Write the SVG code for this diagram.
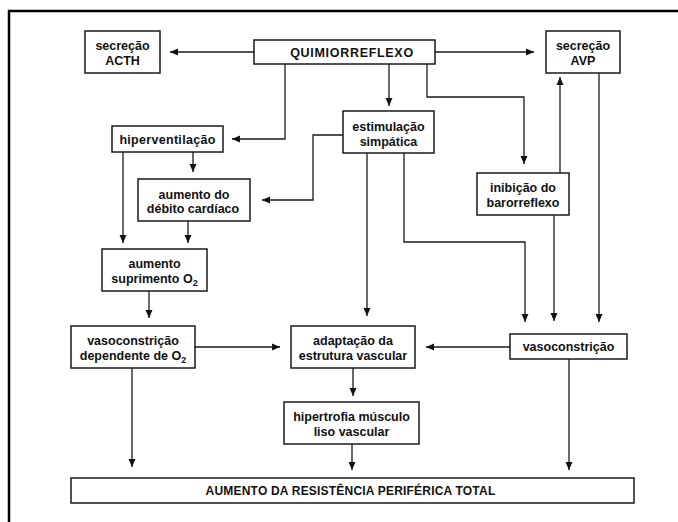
<svg xmlns="http://www.w3.org/2000/svg" width="678" height="522" viewBox="0 0 678 522">
<defs>
<marker id="ah" markerUnits="userSpaceOnUse" markerWidth="8" markerHeight="8" refX="8" refY="4" orient="auto">
<path d="M0,0.5 L8,4 L0,7.5 z" fill="#111"/>
</marker>
<style>
.box{fill:#fff;stroke:#1a1a1a;stroke-width:1.5}
.t{font-family:"Liberation Sans",Arial,sans-serif;font-weight:bold;font-size:12.5px;fill:#111;text-anchor:middle}
.sub{font-size:9px}
.c{fill:none;stroke:#1a1a1a;stroke-width:1.3;marker-end:url(#ah)}
.frame{fill:none;stroke:#000;stroke-width:2.5}
</style>
</defs>
<rect width="678" height="522" fill="#fff"/>
<path class="frame" d="M9,522 V11 H678"/>

<g id="connectors">
<path class="c" d="M254,52 H170"/>
<path class="c" d="M435,52 H534"/>
<path class="c" d="M285,64 V139 H232"/>
<path class="c" d="M389,64 V106"/>
<path class="c" d="M427,64 V97 H524 V164"/>
<path class="c" d="M560,173 V77"/>
<path class="c" d="M599,73 V322"/>
<path class="c" d="M554,215 V321"/>
<path class="c" d="M343,135 H313 V200 H262"/>
<path class="c" d="M367,153 V316"/>
<path class="c" d="M404,153 V242 H525 V322"/>
<path class="c" d="M123,152 V243"/>
<path class="c" d="M193,152 V172"/>
<path class="c" d="M188,221 V243"/>
<path class="c" d="M149,291 V318"/>
<path class="c" d="M195,347 H280"/>
<path class="c" d="M510,347 H426"/>
<path class="c" d="M132,368 V467"/>
<path class="c" d="M353,368 V396"/>
<path class="c" d="M352,444 V470"/>
<path class="c" d="M569,359 V470"/>
</g>

<g id="acth">
<rect class="box" x="85" y="31" width="75" height="42"/>
<text class="t" x="122.5" y="50">secreção</text>
<text class="t" x="122.5" y="65">ACTH</text>
</g>
<g id="quimio">
<rect class="box" x="254" y="40" width="181" height="24"/>
<text class="t" x="352" y="57" style="letter-spacing:0.7px">QUIMIORREFLEXO</text>
</g>
<g id="avp">
<rect class="box" x="546" y="31" width="74" height="42"/>
<text class="t" x="583" y="50">secreção</text>
<text class="t" x="583" y="65">AVP</text>
</g>
<g id="hiperventilacao">
<rect class="box" x="112" y="126" width="111" height="26"/>
<text class="t" x="167.5" y="143.5" style="letter-spacing:0.3px">hiperventilação</text>
</g>
<g id="estimulacao">
<rect class="box" x="343" y="111" width="91" height="42"/>
<text class="t" x="388.5" y="131">estimulação</text>
<text class="t" x="388.5" y="146">simpática</text>
</g>
<g id="debito">
<rect class="box" x="138" y="179" width="112" height="42"/>
<text class="t" x="194" y="198.5">aumento do</text>
<text class="t" x="193" y="213">débito cardíaco</text>
</g>
<g id="inibicao">
<rect class="box" x="477" y="173" width="92" height="42"/>
<text class="t" x="523" y="192">inibição do</text>
<text class="t" x="523" y="207">barorreflexo</text>
</g>
<g id="suprimento">
<rect class="box" x="102" y="249" width="105" height="42"/>
<text class="t" x="154.5" y="268">aumento</text>
<text class="t" x="154.5" y="283">suprimento O<tspan class="sub" dy="3">2</tspan></text>
</g>
<g id="vasodep">
<rect class="box" x="71" y="326" width="124" height="42"/>
<text class="t" x="133" y="345">vasoconstrição</text>
<text class="t" x="133" y="360">dependente de O<tspan class="sub" dy="3">2</tspan></text>
</g>
<g id="adaptacao">
<rect class="box" x="291" y="326" width="124" height="42"/>
<text class="t" x="353" y="345">adaptação da</text>
<text class="t" x="353" y="360">estrutura vascular</text>
</g>
<g id="vasoconstricao">
<rect class="box" x="510" y="334" width="117" height="25"/>
<text class="t" x="568.5" y="351">vasoconstrição</text>
</g>
<g id="hipertrofia">
<rect class="box" x="284" y="402" width="135" height="42"/>
<text class="t" x="351.5" y="421">hipertrofia músculo</text>
<text class="t" x="351.5" y="436">liso vascular</text>
</g>
<g id="resistencia">
<rect class="box" x="71" y="478" width="563" height="25"/>
<text class="t" x="350.5" y="495" style="font-size:12px;letter-spacing:0.2px">AUMENTO DA RESISTÊNCIA PERIFÉRICA TOTAL</text>
</g>
</svg>
